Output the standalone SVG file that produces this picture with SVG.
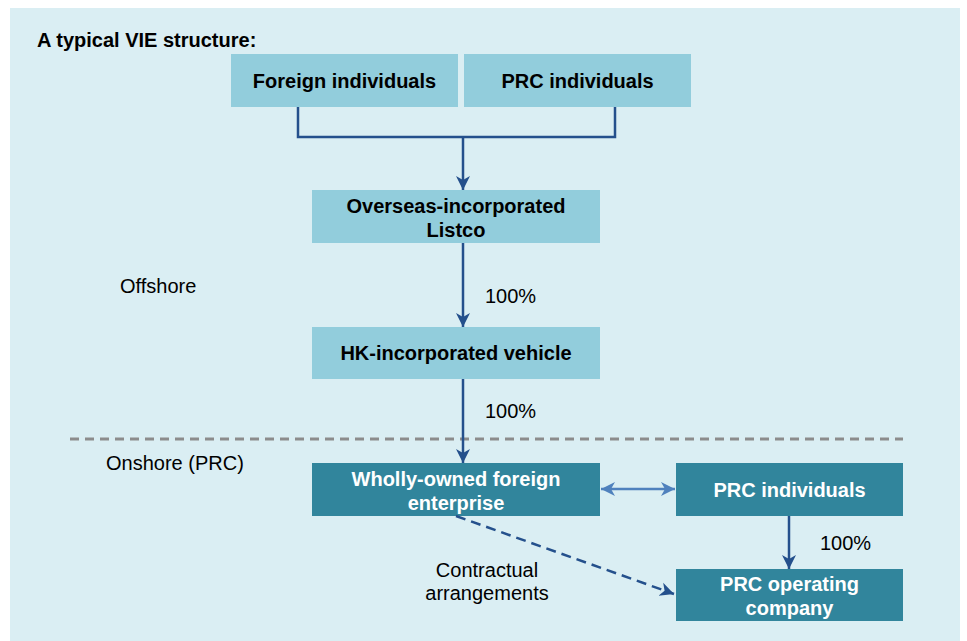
<svg xmlns="http://www.w3.org/2000/svg" width="967" height="641" viewBox="0 0 967 641">
<style>
.t{font-family:"Liberation Sans",Arial,sans-serif;font-size:20px;fill:#000}
.b{font-weight:bold;text-anchor:middle}
.w{fill:#fff}
.m{text-anchor:middle}
.lt{fill:#92cddc}
.dk{fill:#31859c}
.ln{fill:none;stroke:#24508c;stroke-width:2.5}
</style>
<defs>
<marker id="ah" markerUnits="userSpaceOnUse" markerWidth="16" markerHeight="16" refX="14" refY="8" orient="auto">
<path d="M0,1 L14,8 L0,15 L4,8 z" fill="#24508c"/>
</marker>
<marker id="ahb" markerUnits="userSpaceOnUse" markerWidth="16" markerHeight="16" refX="14" refY="8" orient="auto-start-reverse">
<path d="M0,1 L14,8 L0,15 L4,8 z" fill="#4f81bd"/>
</marker>
</defs>
<rect x="10" y="8" width="950" height="633" fill="#daeef3"/>
<text class="t" x="37" y="47" font-weight="bold" font-size="21">A typical VIE structure:</text>
<text class="t" x="120" y="293">Offshore</text>
<text class="t" x="106" y="470">Onshore (PRC)</text>
<line x1="70" y1="439" x2="903" y2="439" stroke="#8c8c8c" stroke-width="3" stroke-dasharray="9 6"/>
<g id="n1"><rect class="lt" x="231" y="54" width="227" height="53"/><text class="t b" x="344.5" y="88">Foreign individuals</text></g>
<g id="n2"><rect class="lt" x="464" y="54" width="227" height="53"/><text class="t b" x="577.5" y="88">PRC individuals</text></g>
<g id="n3"><rect class="lt" x="312" y="190" width="288" height="53"/><text class="t b" x="456" y="213">Overseas-incorporated</text><text class="t b" x="456" y="237">Listco</text></g>
<g id="n4"><rect class="lt" x="312" y="327" width="288" height="52"/><text class="t b" x="456" y="360">HK-incorporated vehicle</text></g>
<g id="n5"><rect class="dk" x="312" y="463" width="288" height="53"/><text class="t b w" x="456" y="486">Wholly-owned foreign</text><text class="t b w" x="456" y="510">enterprise</text></g>
<g id="n6"><rect class="dk" x="676" y="463" width="227" height="53"/><text class="t b w" x="789.5" y="497">PRC individuals</text></g>
<g id="n7"><rect class="dk" x="676" y="569" width="227" height="52"/><text class="t b w" x="789.5" y="591">PRC operating</text><text class="t b w" x="789.5" y="615">company</text></g>
<g id="connectors">
<polyline class="ln" points="298,107 298,137 615,137 615,107"/>
<line class="ln" x1="463" y1="137" x2="463" y2="190" marker-end="url(#ah)"/>
<line class="ln" x1="463" y1="243" x2="463" y2="327" marker-end="url(#ah)"/>
<line class="ln" x1="463" y1="379" x2="463" y2="463" marker-end="url(#ah)"/>
<line class="ln" x1="789" y1="516" x2="789" y2="569" marker-end="url(#ah)"/>
<line x1="601" y1="489" x2="675" y2="489" stroke="#4f81bd" stroke-width="2.5" marker-start="url(#ahb)" marker-end="url(#ahb)"/>
<line class="ln" x1="456" y1="516" x2="674" y2="594" stroke-dasharray="10 6" marker-end="url(#ah)"/>
</g>
<text class="t" x="485" y="303">100%</text>
<text class="t" x="485" y="418">100%</text>
<text class="t" x="820" y="550">100%</text>
<text class="t m" x="487" y="577">Contractual</text>
<text class="t m" x="487" y="600">arrangements</text>
</svg>
